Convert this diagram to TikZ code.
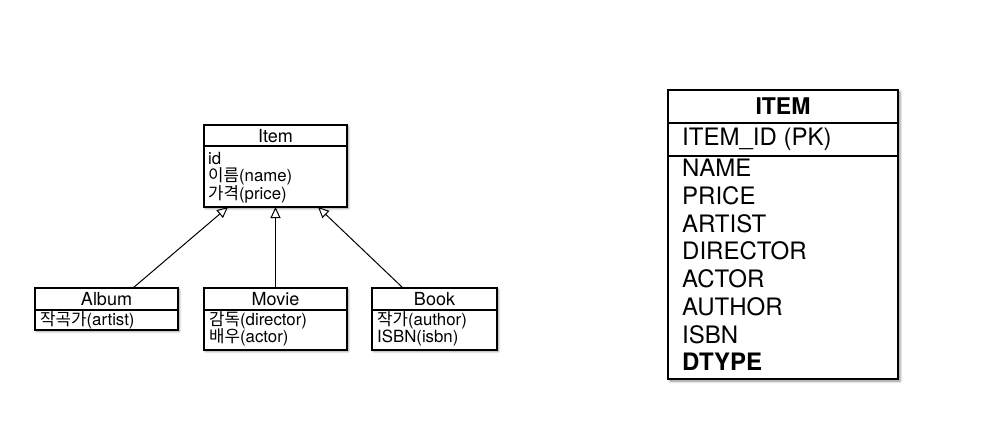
\documentclass[tikz,border=0pt]{standalone}
\usepackage{fontspec}
\setmainfont{TeX Gyre Heros}
\newfontfamily\kr{Noto Sans CJK KR}
\usetikzlibrary{arrows.meta,shadows.blur,calc}
\tikzset{
  umlbox/.style={draw=black, line width=1.2pt, fill=white, inner sep=0pt, outer sep=0pt,
    blur shadow={shadow xshift=1.5pt, shadow yshift=-1.5pt, shadow opacity=45, shadow blur radius=2pt}},
  hdr/.style={font=\fontsize{18}{18}\selectfont, inner sep=0pt},
  attrs/.style={font=\fontsize{16.8}{17.5}\selectfont, align=left, anchor=west, inner sep=0pt},
  divider/.style={line width=1.1pt},
  inherit/.style={line width=1pt, -{Triangle[open, length=11pt, width=10pt, line width=1pt]}},
  tbl/.style={draw=black, line width=1.6pt, fill=white, inner sep=0pt, outer sep=0pt,
    blur shadow={shadow xshift=2pt, shadow yshift=-2pt, shadow opacity=45, shadow blur radius=2.5pt}},
  tbltext/.style={font=\fontsize{24}{27.7}\selectfont, align=left, anchor=west, inner sep=0pt},
}
\begin{document}
\begin{tikzpicture}[x=1pt,y=-1pt]
\useasboundingbox (0,0) rectangle (996,426);

% Item class
\node[umlbox, minimum width=143pt, minimum height=82pt] (item) at (275.5,166) {};
\draw[divider] (item.west |- 0,146) -- (item.east |- 0,146);
\node[hdr] (itemh) at (275.5,136) {Item};
\node[attrs] (itema) at (208,177.5) {id\\{\kr 이름}(name)\\{\kr 가격}(price)};

% Album
\node[umlbox, minimum width=143pt, minimum height=42pt] (album) at (106.5,309) {};
\draw[divider] (album.west |- 0,310) -- (album.east |- 0,310);
\node[hdr] (albumh) at (106.5,299) {Album};
\node[attrs] (albuma) at (40,320.5) {{\kr 작곡가}(artist)};

% Movie
\node[umlbox, minimum width=143pt, minimum height=62pt] (movie) at (275.5,319) {};
\draw[divider] (movie.west |- 0,310) -- (movie.east |- 0,310);
\node[hdr] (movieh) at (275.5,299) {Movie};
\node[attrs] (moviea) at (209,329) {{\kr 감독}(director)\\{\kr 배우}(actor)};

% Book
\node[umlbox, minimum width=125pt, minimum height=62pt] (book) at (434.5,319) {};
\draw[divider] (book.west |- 0,310) -- (book.east |- 0,310);
\node[hdr] (bookh) at (434.5,299) {Book};
\node[attrs] (booka) at (377,329) {{\kr 작가}(author)\\ISBN(isbn)};

% Inheritance
\draw[inherit] ([xshift=98pt]album.north west) -- ([xshift=24pt]item.south west);
\draw[inherit] (movie.north) -- (item.south);
\draw[inherit] ([xshift=31pt]book.north west) -- ([xshift=114pt]item.south west);

% ITEM table
\node[tbl, minimum width=230pt, minimum height=289pt] (tab) at (783,234.5) {};
\draw[line width=1.4pt] (tab.west |- 0,123) -- (tab.east |- 0,123);
\draw[line width=1.4pt] (tab.west |- 0,156) -- (tab.east |- 0,156);
\node[font=\fontsize{23}{23}\selectfont\bfseries, inner sep=0pt] (tabh) at (783,106) {ITEM};
\node[tbltext] (tabpk) at (682,139.5) {ITEM\_ID (PK)};
\node[tbltext] (tabcols) at (682,265) {NAME\\PRICE\\ARTIST\\DIRECTOR\\ACTOR\\AUTHOR\\ISBN\\\textbf{DTYPE}};
\end{tikzpicture}
\end{document}
